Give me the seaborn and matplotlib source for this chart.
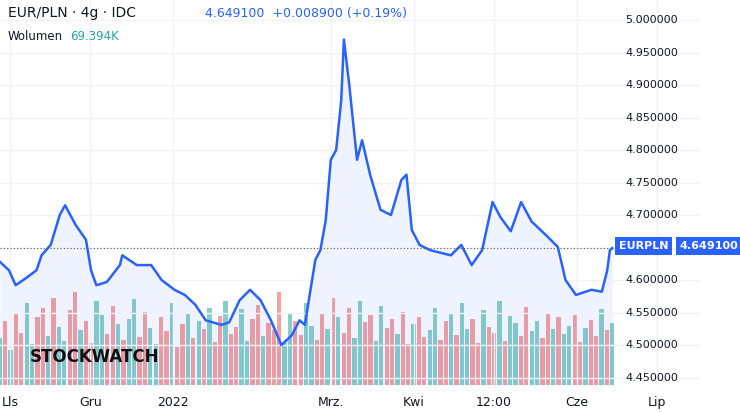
import matplotlib
matplotlib.use("Agg")
import matplotlib.pyplot as plt
import seaborn as sns
import pandas as pd
import numpy as np

# price trace: days after 2021-11-01, EUR/PLN close
price_days = [-3.9, -0.5, 2, 5.9, 9.8, 11.7, 15.1, 18.5, 20.5, 24.4, 28.3, 30.2, 32.2, 36.1, 41, 41.9, 47.3, 52.7, 56.6, 61.4,
              65.3, 69.2, 73.1, 79, 81.9, 85.8, 89.7, 93.6, 97.5, 101.4, 105.3, 108.2, 110.2, 114.1, 116, 118, 119.9, 121.9, 123.8, 124.8,
              126.8, 129.7, 131.6, 134.6, 138.5, 142.4, 146.3, 148.2, 150.2, 153.1, 157, 164.8, 168.7, 172.6, 176.5, 180.4, 183.3, 187.2, 191.1, 195,
              200.9, 204.8, 207.7, 211.6, 217.4, 221.3, 223.3, 224.3, 225.2]
price_vals = [4.628, 4.615, 4.592, 4.603, 4.615, 4.638, 4.654, 4.700, 4.715, 4.685, 4.662, 4.615, 4.592, 4.597, 4.623, 4.638, 4.623, 4.623, 4.600, 4.585,
              4.577, 4.562, 4.538, 4.531, 4.535, 4.569, 4.585, 4.569, 4.538, 4.500, 4.515, 4.538, 4.531, 4.631, 4.646, 4.692, 4.785, 4.800, 4.877, 4.970,
              4.900, 4.785, 4.815, 4.762, 4.708, 4.700, 4.754, 4.762, 4.677, 4.654, 4.646, 4.638, 4.654, 4.623, 4.646, 4.720, 4.697, 4.675, 4.720, 4.690,
              4.667, 4.651, 4.600, 4.577, 4.585, 4.582, 4.615, 4.646, 4.649]

vol_vals = [40, 55, 30, 62, 45, 70, 35, 58, 66, 42, 75, 50, 38, 64, 80, 47, 55, 36, 72, 60, 44, 68, 52, 39, 57, 74, 41, 63, 49, 35,
            58, 46, 70, 33, 52, 61, 40, 55, 48, 66, 37, 59, 72, 44, 50, 65, 38, 57, 69, 42, 53, 47, 80, 36, 61, 55, 43, 70, 51, 39,
            62, 48, 75, 58, 45, 66, 40, 72, 54, 60, 38, 68, 49, 57, 44, 63, 35, 52, 58, 41, 47, 66, 39, 55, 61, 43, 70, 48, 57, 36,
            64, 50, 45, 72, 38, 59, 53, 42, 67, 46, 55, 40, 62, 48, 58, 44, 51, 60, 37, 49, 56, 42, 65, 47, 53]
vol_dir = ("ududduuddu" "duuddudduu" "dduduudduu" "dduddudud"
           "uddudduudd" "uddduudduu" "ddududduud" "duudduddud"
           "duudduduud" "dudduduudd" "uudduduudd" "udduduudu" "ddu")

start = pd.Timestamp("2021-11-01")
df = pd.DataFrame({"date": start + pd.to_timedelta(price_days, unit="D"), "price": price_vals})
n = min(len(vol_vals), len(vol_dir))
vol_dates = start + pd.to_timedelta(np.linspace(-3.9, 225.2, n), unit="D")
vdf = pd.DataFrame({"date": vol_dates, "vol": vol_vals[:n], "dir": list(vol_dir[:n])})

fig = plt.figure(figsize=(7.4, 4.12), dpi=100)
ax = fig.add_axes([0, 27/412, 700/740, 385/412])
ax.set_xlim(start - pd.Timedelta(days=3.85), pd.Timestamp("2022-07-17"))
ax.set_ylim(4.4385, 5.0308)

ax2 = ax.twinx()
ax2.set_ylim(0, 330)
for d, col in (("u", "#26a69a"), ("d", "#ef5350")):
    sub = vdf[vdf["dir"] == d]
    ax2.bar(sub["date"], sub["vol"], width=1.6, color=col, alpha=0.55, linewidth=0)
ax2.set_yticks([])
ax2.set_zorder(ax.get_zorder() - 1)
ax.set_zorder(2)
ax.patch.set_visible(False)

ax.fill_between(df["date"], df["price"], 4.4385, color="#2962ff", alpha=0.07, linewidth=0)
sns.lineplot(data=df, x="date", y="price", ax=ax, color="#2962ff", linewidth=1.8)
ax.axhline(4.6491, xmax=610/700, color="#555555", linestyle=(0, (1, 2)), linewidth=0.8)

ticks = [pd.Timestamp(s) for s in ["2021-11-01", "2021-12-01", "2022-01-01", "2022-03-01", "2022-04-01", "2022-05-01", "2022-06-01", "2022-07-01"]]
tlabels = ["Lls", "Gru", "2022", "Mrz.", "Kwi", "12:00", "Cze", "Lip"]
ax.set_xticks(ticks)
ax.set_xticklabels(tlabels, fontsize=9, color="#131722")
ax.set_xlabel("")
ax.set_ylabel("")
ax.tick_params(axis="x", length=0, pad=8)
yt = [4.45, 4.5, 4.55, 4.6, 4.65, 4.7, 4.75, 4.8, 4.85, 4.9, 4.95, 5.0]
ax.set_yticks(yt)
ax.set_yticklabels([])
ax.tick_params(axis="y", length=0)
ax.grid(True, color="#f0f3fa", linewidth=1)
ax2.grid(False)
for s in list(ax.spines.values()) + list(ax2.spines.values()):
    s.set_visible(False)
for v in yt:
    if abs(v - 4.65) > 0.02:
        ax.text(625/700, v, f"{v:.6f}", transform=ax.get_yaxis_transform(), fontsize=8, color="#131722", va="center")
fig.text(619/740, 1 - 246/412, "EURPLN", fontsize=8, color="white", weight="bold", va="center",
         bbox=dict(boxstyle="square,pad=0.35", fc="#2962ff", ec="none"))
fig.text(680/740, 1 - 246/412, "4.649100", fontsize=8, color="white", weight="bold", va="center",
         bbox=dict(boxstyle="square,pad=0.35", fc="#2962ff", ec="none"))
fig.text(8/740, 1 - 13/412, "EUR/PLN · 4g · IDC", fontsize=10, color="#131722", va="center")
fig.text(205/740, 1 - 13/412, "4.649100  +0.008900 (+0.19%)", fontsize=9, color="#2962ff", va="center")
fig.text(8/740, 1 - 37/412, "Wolumen", fontsize=8.5, color="#131722", va="center")
fig.text(70/740, 1 - 37/412, "69.394K", fontsize=8.5, color="#26a69a", va="center")
fig.text(30/740, 1 - 357/412, "STOCKWATCH", fontsize=12, color="#111111", weight="bold", va="center")
fig.savefig("out.png", dpi=100)
